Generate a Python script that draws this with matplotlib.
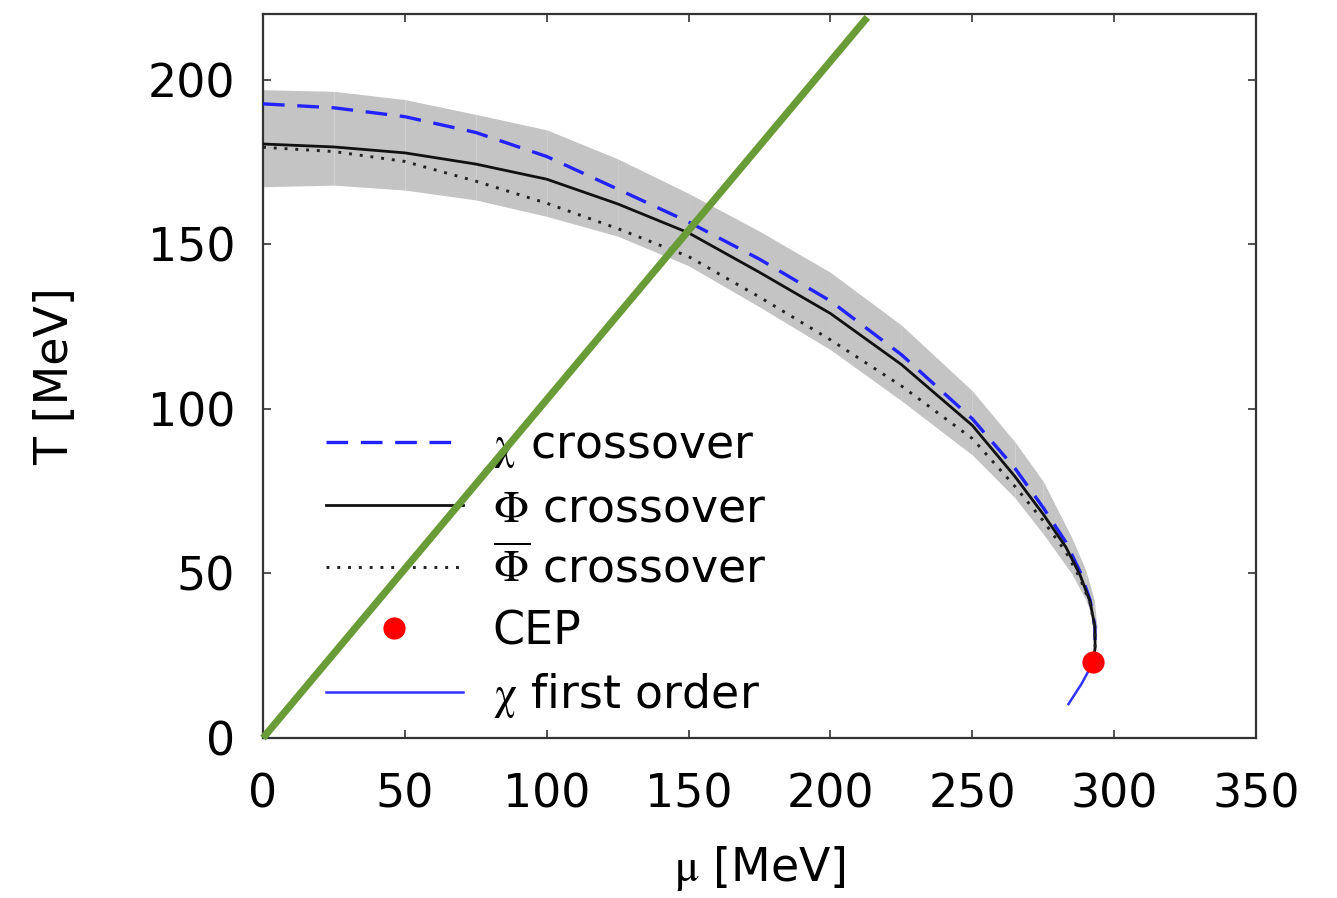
import matplotlib
matplotlib.use("Agg")
import matplotlib.pyplot as plt
import numpy as np

plt.rcParams['font.family'] = ['DejaVu Sans']
plt.rcParams['mathtext.fontset'] = 'stix'

# ---- data ----
curve_mu = [0, 25, 50, 75, 100, 125, 150, 175, 200, 225, 250, 265, 275, 283, 288, 291.5, 293.2, 293.3, 292.6]
chi_T = [192.7, 191.5, 188.8, 184.0, 176.7, 166.8, 156.8, 145.5, 132.8, 116.5, 97.0, 82.0, 70.0, 59.5, 50.5, 42.0, 34.0, 28.0, 23.0]
phi_T = [180.5, 179.6, 177.8, 174.4, 169.8, 162.3, 153.5, 141.5, 129.0, 113.5, 95.0, 79.5, 68.0, 58.0, 49.5, 41.5, 33.8, 27.5, 23.0]
phibar_T = [179.5, 178.2, 175.2, 169.2, 162.5, 154.8, 146.3, 134.0, 121.0, 107.0, 91.0, 76.5, 66.0, 56.5, 48.5, 41.0, 33.5, 27.5, 23.0]

band_mu = [0, 25, 50, 75, 100, 125, 150, 175, 200, 225, 250, 265, 275, 285, 290, 293, 294]
band_hi = [197, 196.5, 194, 189.5, 184.8, 176, 165.5, 154, 141.5, 125.5, 105.5, 90, 78, 61, 51, 42, 33]
band_lo = [167.5, 168, 166.5, 163.5, 158.5, 152.5, 143.5, 131, 118, 102.5, 86, 73, 62, 50, 42, 35, 33]

first_mu = [292.6, 288.6, 283.9]
first_T = [23.0, 16.6, 10.3]

cep_mu = [292.5]
cep_T = [23.0]

green_mu = [0, 213]
green_T = [0, 219]

xticks = [0, 50, 100, 150, 200, 250, 300, 350]
yticks = [0, 50, 100, 150, 200]

labels = [r'$\mathrm{\chi}$ crossover', r'$\mathrm{\Phi}$ crossover',
          r'$\overline{\mathrm{\Phi}}$ crossover', 'CEP', r'$\mathrm{\chi}$ first order']

# ---- figure ----
fig = plt.figure(figsize=(13.37, 8.98), dpi=100)
ax = fig.add_axes([263/1337, 1-738/898, (1256-263)/1337, (738-14)/898])

# band drawn as adjacent segments (faint seams like the original)
for i in range(len(band_mu)-1):
    ax.fill_between(band_mu[i:i+2], band_lo[i:i+2], band_hi[i:i+2],
                    color='#c4c4c4', linewidth=0, antialiased=True, zorder=1)

l1, = ax.plot(curve_mu, chi_T, color='#2222ff', lw=2.4, dashes=(6.5, 3.8), zorder=3)
l2, = ax.plot(curve_mu, phi_T, color='#111111', lw=2.0, zorder=3)
l3, = ax.plot(curve_mu, phibar_T, color='#222222', lw=2.1, dashes=(1.0, 2.7), zorder=3)
l4, = ax.plot(cep_mu, cep_T, 'o', color='#ff0000', ms=16, mec='none', zorder=5)
l5, = ax.plot(first_mu, first_T, color='#3333ff', lw=1.8, zorder=4)

ax.plot(green_mu, green_T, color='#699c37', lw=5.2, solid_capstyle='butt', zorder=6, clip_on=False)

ax.set_xlim(0, 350)
ax.set_ylim(0, 220)
ax.set_xticks(xticks)
ax.set_yticks(yticks)
ax.tick_params(direction='in', length=6, width=1.3, top=True, right=True,
               labelsize=33, color='#444444')
ax.tick_params(axis='x', pad=25)
ax.tick_params(axis='y', pad=20)
for s in ax.spines.values():
    s.set_linewidth(1.6)
    s.set_color('#333333')

ax.set_xlabel(r'$\mathrm{\mu}$ [MeV]', fontsize=33, labelpad=19)
ax.set_ylabel('T [MeV]', fontsize=33, labelpad=50)

leg = ax.legend([l1, l2, l3, l4, l5], labels, loc='lower left',
                bbox_to_anchor=(0.063, 0.025), frameon=False, fontsize=33,
                handlelength=3.0, handletextpad=0.65, labelspacing=0.36,
                borderpad=0, borderaxespad=0, numpoints=1)
leg.set_zorder(4)

fig.savefig('out.png', dpi=100)
